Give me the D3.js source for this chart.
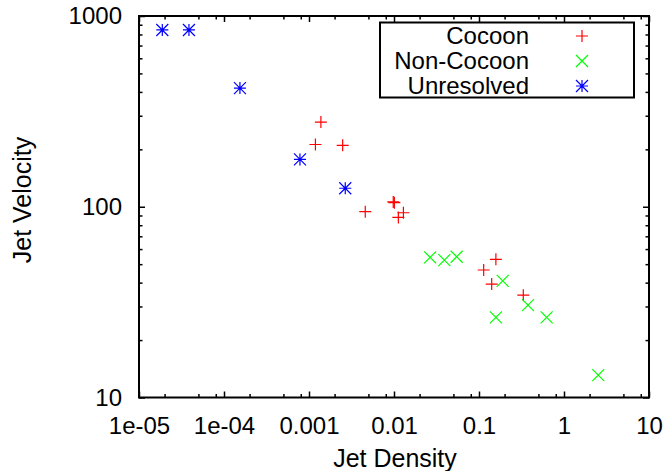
<!DOCTYPE html>
<html>
<head>
<meta charset="utf-8">
<script src="https://cdn.jsdelivr.net/npm/d3@7"></script>
<style>
  html, body { margin: 0; padding: 0; background: #fff; }
  svg { display: block; font-family: "Liberation Sans", Arial, Helvetica, sans-serif; }
</style>
</head>
<body>
<svg id="chart" width="665" height="471"></svg>
<script>
// ---- data ----
const cocoonDensity   = [0.00138, 0.00119, 0.00249, 0.00459, 0.0098, 0.0101, 0.01125, 0.0129, 0.158, 0.1135, 0.141, 0.332];
const cocoonVelocity  = [278, 212, 210, 94.2, 106, 105, 87.9, 93, 53, 46.6, 39.3, 34.4];
const nonCocoonDensity  = [0.0266, 0.0391, 0.0546, 0.19, 0.377, 0.158, 0.625, 2.53];
const nonCocoonVelocity = [54.3, 52.5, 54.7, 40.9, 30.5, 26.3, 26.3, 13.1];
const unresolvedDensity  = [1.88e-5, 3.87e-5, 1.54e-4, 7.83e-4, 2.67e-3];
const unresolvedVelocity = [845, 845, 419, 177, 125];

const seriesNames = ["Cocoon", "Non-Cocoon", "Unresolved"];
const seriesColors = ["#ff0000", "#00ff00", "#0000ff"];

const xTickValues = [1e-5, 1e-4, 1e-3, 1e-2, 1e-1, 1, 10];
const xTickLabels = ["1e-05", "1e-04", "0.001", "0.01", "0.1", "1", "10"];
const yTickValues = [10, 100, 1000];
const yTickLabels = ["10", "100", "1000"];
const xMinorMultipliers = [2, 5, 8];
const yMinorMultipliers = [2, 3, 4, 5, 6, 7, 8, 9];

const xTitle = "Jet Density";
const yTitle = "Jet Velocity";

// ---- layout ----
const L = 139, R = 649, T = 16, B = 397.5;
const FS = 24;   // tick labels
const FT = 25;   // titles
const FL = 24;   // legend

const svg = d3.select("#chart");
const x = d3.scaleLog().domain([1e-5, 10]).range([L, R]);
const y = d3.scaleLog().domain([10, 1000]).range([B, T]);

const xMinor = [];
xTickValues.slice(0, -1).forEach(d => xMinorMultipliers.forEach(m => xMinor.push(d * m)));
const yMinor = [];
yTickValues.slice(0, -1).forEach(d => yMinorMultipliers.forEach(m => yMinor.push(d * m)));

function styleAxis(g) {
  g.select(".domain").remove();
  g.selectAll(".tick line").attr("stroke", "#000").attr("stroke-width", 1.5);
  g.selectAll("text").attr("font-size", FS).attr("fill", "#000")
    .attr("font-family", "'Liberation Sans', Arial, sans-serif");
}

// bottom
svg.append("g").attr("transform", `translate(0,${B})`)
  .call(d3.axisBottom(x).tickValues(xTickValues).tickFormat((d, i) => xTickLabels[i])
    .tickSizeInner(-6).tickSizeOuter(0).tickPadding(19))
  .call(styleAxis);
svg.append("g").attr("transform", `translate(0,${B})`)
  .call(d3.axisBottom(x).tickValues(xMinor).tickFormat("").tickSizeInner(-3.5).tickSizeOuter(0))
  .call(styleAxis);
// top
svg.append("g").attr("transform", `translate(0,${T})`)
  .call(d3.axisTop(x).tickValues(xTickValues).tickFormat("").tickSizeInner(-6).tickSizeOuter(0))
  .call(styleAxis);
svg.append("g").attr("transform", `translate(0,${T})`)
  .call(d3.axisTop(x).tickValues(xMinor).tickFormat("").tickSizeInner(-3.5).tickSizeOuter(0))
  .call(styleAxis);
// left
svg.append("g").attr("transform", `translate(${L},0)`)
  .call(d3.axisLeft(y).tickValues(yTickValues).tickFormat((d, i) => yTickLabels[i])
    .tickSizeInner(-6).tickSizeOuter(0).tickPadding(17))
  .call(styleAxis);
svg.append("g").attr("transform", `translate(${L},0)`)
  .call(d3.axisLeft(y).tickValues(yMinor).tickFormat("").tickSizeInner(-3.5).tickSizeOuter(0))
  .call(styleAxis);
// right
svg.append("g").attr("transform", `translate(${R},0)`)
  .call(d3.axisRight(y).tickValues(yTickValues).tickFormat("").tickSizeInner(-6).tickSizeOuter(0))
  .call(styleAxis);
svg.append("g").attr("transform", `translate(${R},0)`)
  .call(d3.axisRight(y).tickValues(yMinor).tickFormat("").tickSizeInner(-3.5).tickSizeOuter(0))
  .call(styleAxis);

// border
svg.append("rect").attr("x", L).attr("y", T).attr("width", R - L).attr("height", B - T)
  .attr("fill", "none").attr("stroke", "#000").attr("stroke-width", 2);

// titles
svg.append("text").attr("x", 395).attr("y", 467).attr("text-anchor", "middle")
  .attr("font-size", FT).text(xTitle);
svg.append("text").attr("transform", `translate(31,200) rotate(-90)`)
  .attr("text-anchor", "middle").attr("font-size", FT).text(yTitle);

// markers
const S = 6;
function plusPath(cx, cy) { return `M${cx - S},${cy}H${cx + S}M${cx},${cy - S}V${cy + S}`; }
function crossPath(cx, cy) { return `M${cx - S},${cy - S}L${cx + S},${cy + S}M${cx - S},${cy + S}L${cx + S},${cy - S}`; }
function starPath(cx, cy) { return plusPath(cx, cy) + crossPath(cx, cy); }
const markerFns = [plusPath, crossPath, starPath];

const series = [
  { xs: cocoonDensity, ys: cocoonVelocity },
  { xs: nonCocoonDensity, ys: nonCocoonVelocity },
  { xs: unresolvedDensity, ys: unresolvedVelocity }
];

series.forEach((s, si) => {
  svg.append("g").selectAll("path").data(s.xs.map((d, i) => [d, s.ys[i]])).join("path")
    .attr("d", d => markerFns[si](x(d[0]), y(d[1])))
    .attr("fill", "none").attr("stroke", seriesColors[si]).attr("stroke-width", 1.2);
});

// legend
const lg = svg.append("g");
lg.append("rect").attr("x", 380).attr("y", 22.5).attr("width", 254).attr("height", 75)
  .attr("fill", "#fff").attr("stroke", "#000").attr("stroke-width", 2);
seriesNames.forEach((name, i) => {
  const cy = 36 + i * 25;
  lg.append("text").attr("x", 529).attr("y", cy).attr("dy", "0.35em").attr("text-anchor", "end")
    .attr("font-size", FL).text(name);
  lg.append("path").attr("d", markerFns[i](582, cy)).attr("fill", "none")
    .attr("stroke", seriesColors[i]).attr("stroke-width", 1.2);
});
</script>
</body>
</html>
